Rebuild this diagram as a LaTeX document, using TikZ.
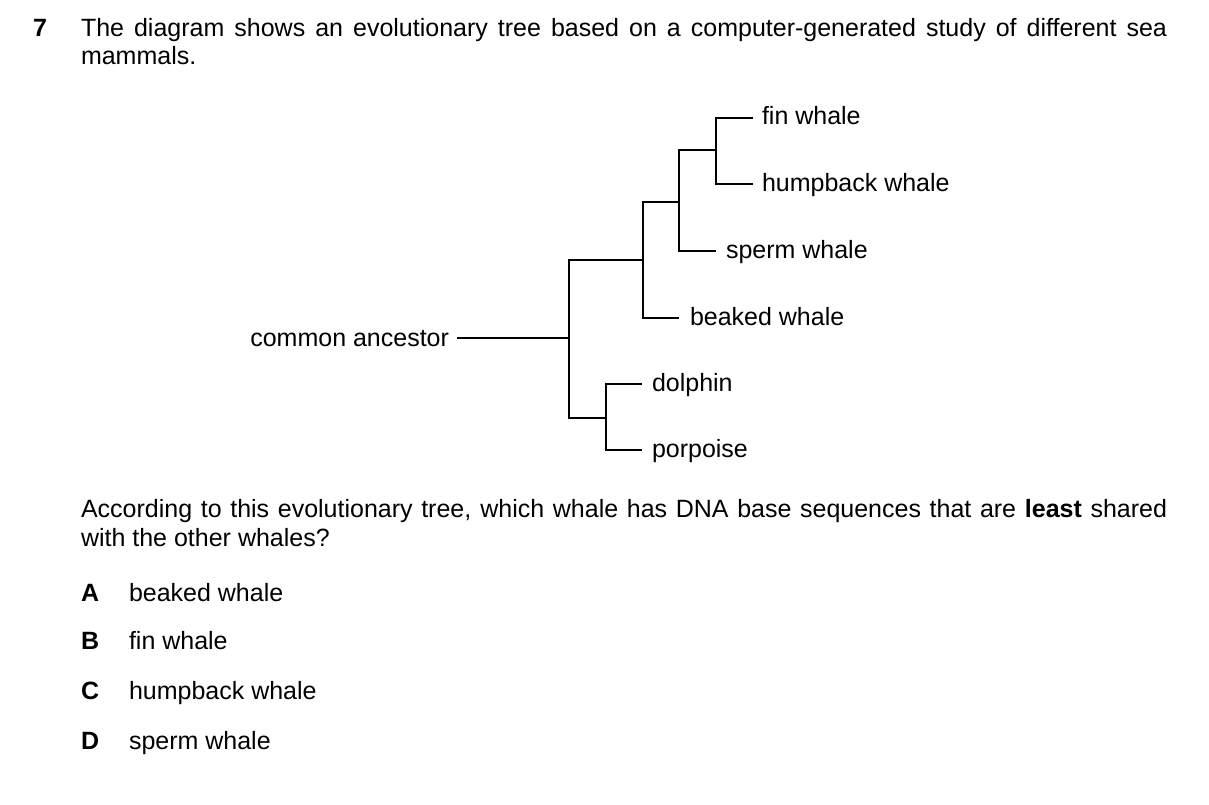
\documentclass[tikz,border=0pt]{standalone}
\usepackage{fontspec}
\setmainfont{Liberation Sans}
\begin{document}
\begin{tikzpicture}[x=1pt,y=-1pt,
  txt/.style={inner sep=0pt,outer sep=0pt,anchor=base west,font=\fontsize{25}{30}\selectfont},
  tree/.style={line width=1.8pt,line join=miter}]
\useasboundingbox (0,0) rectangle (1209,805);
% question
\node[txt] (qn) at (33,37) {\bfseries 7};
\node[txt] (q1) at (81,37) {\makebox[1086pt][s]{The diagram shows an evolutionary tree based on a computer-generated study of different sea}};
\node[txt] (q2) at (81,65) {mammals.};
% tree labels
\node[txt,anchor=base east] (anc) at (449,346) {common ancestor};
\node[txt] (fin) at (762,125) {fin whale};
\node[txt] (hump) at (762,191) {humpback whale};
\node[txt] (sperm) at (726,258) {sperm whale};
\node[txt] (beak) at (690,325) {beaked whale};
\node[txt] (dol) at (652,391) {dolphin};
\node[txt] (por) at (652,457) {porpoise};
% tree coordinates
\coordinate (r0) at (457,338);
\coordinate (r) at (569,338);
\coordinate (ru) at (569,260);
\coordinate (rl) at (569,418);
\coordinate (w) at (643,260);
\coordinate (wu) at (643,202);
\coordinate (wl) at (643,318);
\coordinate (be) at (679,318);
\coordinate (s) at (679,202);
\coordinate (su) at (679,150);
\coordinate (sl) at (679,251);
\coordinate (sp) at (716,251);
\coordinate (f) at (716,150);
\coordinate (fu) at (716,118);
\coordinate (fl) at (716,184);
\coordinate (fi) at (753,118);
\coordinate (hu) at (753,184);
\coordinate (d) at (606,418);
\coordinate (du) at (606,384);
\coordinate (dl) at (606,450);
\coordinate (do) at (642,384);
\coordinate (po) at (642,450);
\draw[tree] (r0) -- (r);
\draw[tree] (w) -- (ru) -- (rl) -- (d);
\draw[tree] (s) -- (wu) -- (wl) -- (be);
\draw[tree] (f) -- (su) -- (sl) -- (sp);
\draw[tree] (fi) -- (fu) -- (fl) -- (hu);
\draw[tree] (do) -- (du) -- (dl) -- (po);
% question 2
\node[txt] (a1) at (81,517) {\makebox[1086pt][s]{According to this evolutionary tree, which whale has DNA base sequences that are \textbf{least} shared}};
\node[txt] (a2) at (81,546) {with the other whales?};
\node[txt] (la) at (81,601) {\bfseries A};
\node[txt] (ta) at (129,601) {beaked whale};
\node[txt] (lb) at (81,649) {\bfseries B};
\node[txt] (tb) at (129,649) {fin whale};
\node[txt] (lc) at (81,699) {\bfseries C};
\node[txt] (tc) at (129,699) {humpback whale};
\node[txt] (ld) at (81,749) {\bfseries D};
\node[txt] (td) at (129,749) {sperm whale};
\end{tikzpicture}
\end{document}
